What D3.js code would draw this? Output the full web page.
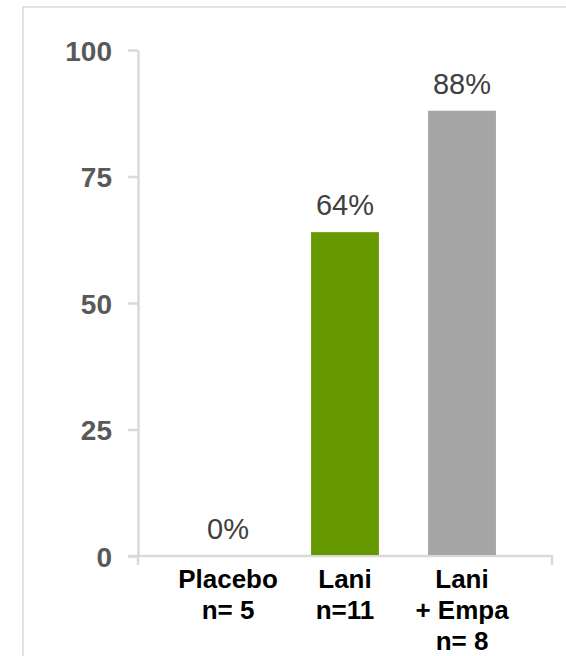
<!DOCTYPE html>
<html>
<head>
<meta charset="utf-8">
<script src="https://cdn.jsdelivr.net/npm/d3@7"></script>
<style>
  html, body { margin: 0; padding: 0; background: #fff; }
  svg { display: block; }
</style>
</head>
<body>
<script>
const categories = ["Placebo", "Lani", "Lani + Empa"];
const categoryLines = [["Placebo", "n= 5"], ["Lani", "n=11"], ["Lani", "+ Empa", "n= 8"]];
const values = [0, 64, 88];
const valueLabels = ["0%", "64%", "88%"];
const barColors = ["#669900", "#669900", "#a6a6a6"];
const yTicks = [0, 25, 50, 75, 100];

const W = 566, H = 656;
const svg = d3.select("body").append("svg").attr("width", W).attr("height", H);

// outer frame (top + left visible)
svg.append("path")
  .attr("d", `M23,${H} L23,7 L${W},7`)
  .attr("fill", "none").attr("stroke", "#d9d9d9").attr("stroke-width", 1.5);

const axisX = 138;
const y = d3.scaleLinear().domain([0, 100]).range([556, 50]);
const x = d3.scaleBand().domain(categories).range([169.5, 520.5]).paddingInner(0.42).paddingOuter(0.21);

const axisColor = "#d9d9d9";

// y axis
const yAxis = svg.append("g").attr("transform", `translate(${axisX},0)`)
  .call(d3.axisLeft(y).tickValues(yTicks).tickSize(10).tickPadding(16).tickSizeOuter(0));
yAxis.select(".domain").attr("stroke", axisColor).attr("stroke-width", 2.5);
yAxis.selectAll(".tick line").attr("stroke", axisColor).attr("stroke-width", 2.5);
yAxis.selectAll(".tick text")
  .attr("fill", "#595959").attr("font-family", "Liberation Sans, Arial, sans-serif")
  .attr("font-size", 28).attr("font-weight", "bold").attr("dy", "0.36em");

// x axis line with end ticks
svg.append("line").attr("x1", 128).attr("x2", 553).attr("y1", y(0)).attr("y2", y(0))
  .attr("stroke", axisColor).attr("stroke-width", 2.5);
svg.append("line").attr("x1", axisX).attr("x2", axisX).attr("y1", y(0)).attr("y2", y(0) + 9)
  .attr("stroke", axisColor).attr("stroke-width", 2.5);
svg.append("line").attr("x1", 552).attr("x2", 552).attr("y1", y(0)).attr("y2", y(0) + 9)
  .attr("stroke", axisColor).attr("stroke-width", 2.5);

// bars
svg.selectAll("rect.bar").data(values).enter().append("rect")
  .attr("class", "bar")
  .attr("x", (d, i) => x(categories[i]))
  .attr("width", x.bandwidth())
  .attr("y", d => y(d))
  .attr("height", d => y(0) - y(d) - 1)
  .attr("fill", (d, i) => barColors[i]);

// value labels
svg.selectAll("text.val").data(values).enter().append("text")
  .attr("class", "val")
  .attr("x", (d, i) => x(categories[i]) + x.bandwidth() / 2)
  .attr("y", d => y(d) - 17)
  .attr("text-anchor", "middle")
  .attr("font-family", "Liberation Sans, Arial, sans-serif")
  .attr("font-size", 29).attr("fill", "#404040")
  .text((d, i) => valueLabels[i]);

// category labels
categoryLines.forEach((lines, i) => {
  const t = svg.append("text")
    .attr("x", x(categories[i]) + x.bandwidth() / 2)
    .attr("y", 588)
    .attr("text-anchor", "middle")
    .attr("font-family", "Liberation Sans, Arial, sans-serif")
    .attr("font-size", 26).attr("font-weight", "bold").attr("fill", "#000");
  lines.forEach((ln, j) => {
    t.append("tspan").attr("x", x(categories[i]) + x.bandwidth() / 2)
      .attr("y", 588 + j * 31).text(ln);
  });
});
</script>
</body>
</html>
